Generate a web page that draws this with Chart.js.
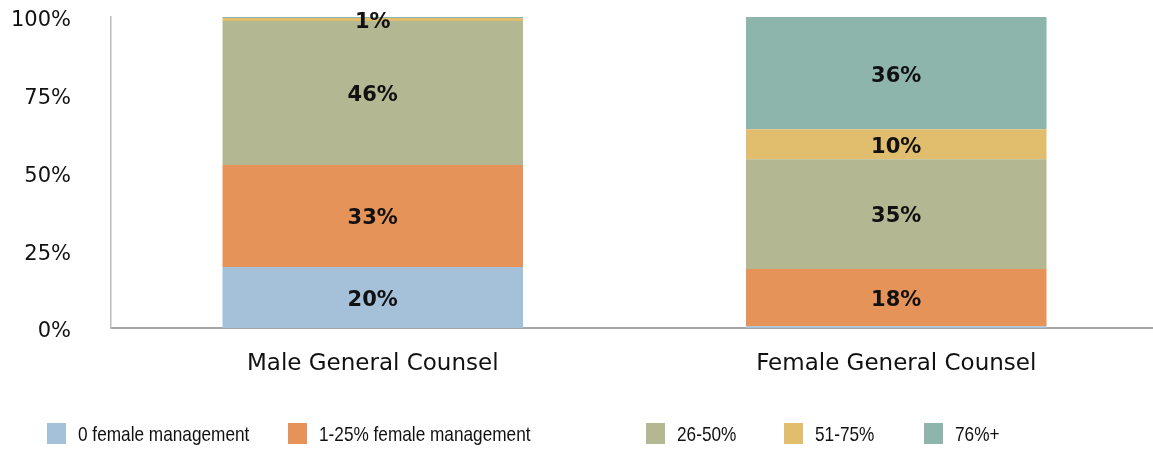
<!DOCTYPE html>
<html>
<head>
<meta charset="utf-8">
<script src="https://cdn.jsdelivr.net/npm/chart.js@4.4.1/dist/chart.umd.min.js"></script>
<style>
    html, body { margin: 0; padding: 0; background: #fff; overflow: hidden; }
    #wrap { position: relative; width: 1158px; height: 451px; }
    #legend { position: absolute; left: 0; top: 423px; width: 1153px; height: 22px; }
    .lg-item { position: absolute; top: 0; height: 21px; }
    .lg-box { position: absolute; left: 0; top: 0; width: 19px; height: 21px; }
    .lg-text {
        position: absolute; left: 31px; top: -1px; white-space: nowrap;
        font-family: "Liberation Sans", Arial, sans-serif; font-size: 21px; color: #111;
        transform: scaleX(0.82); transform-origin: left center;
    }
</style>
</head>
<body>
<div id="wrap">
    <canvas id="chart"></canvas>
    <div id="legend"></div>
</div>
<script>
// ── Data ────────────────────────────────────────────────
const categories = ["Male General Counsel", "Female General Counsel"];
const seriesNames = ["0 female management", "1-25% female management", "26-50%", "51-75%", "76%+"];
const zeroMgmt   = [19.6, 0.6];
const lowMgmt    = [32.8, 18.4];
const midMgmt    = [46.3, 35.3];
const highMgmt   = [1.0, 9.6];
const topMgmt    = [0.3, 36.1];
const yTicks     = [0, 25, 50, 75, 100];

const COLORS = ["#a5c1d9", "#e6935a", "#b3b892", "#e0be6e", "#8db5ab"];
const legendLeft = [47, 288, 646, 784, 924];

const seriesValues = [zeroMgmt, lowMgmt, midMgmt, highMgmt, topMgmt];

// ── Labels inside segments ──────────────────────────────
const segmentLabels = {
    id: "segmentLabels",
    afterDatasetsDraw(chart) {
        const ctx = chart.ctx;
        ctx.save();
        ctx.font = "bold 21px 'DejaVu Sans'";
        ctx.fillStyle = "#111";
        ctx.textAlign = "center";
        ctx.textBaseline = "middle";
        chart.data.datasets.forEach((ds, i) => {
            const meta = chart.getDatasetMeta(i);
            meta.data.forEach((bar, j) => {
                const v = ds.data[j];
                if (v < 0.95) return;
                ctx.fillText(Math.round(v) + "%", bar.x, (bar.y + bar.base) / 2 + 3);
            });
        });
        ctx.restore();
    }
};

const chart = new Chart(document.getElementById("chart"), {
    type: "bar",
    data: {
        labels: categories,
        datasets: seriesNames.map((name, i) => ({
            label: name,
            data: seriesValues[i],
            backgroundColor: COLORS[i],
            borderWidth: 0,
            barPercentage: 0.574,
            categoryPercentage: 1.0,
        }))
    },
    options: {
        responsive: true, maintainAspectRatio: false,
        animation: false,
        layout: { padding: { left: 0, top: 17, right: 0, bottom: 63 } },
        plugins: { legend: { display: false }, tooltip: { enabled: false } },
        scales: {
            x: {
                stacked: true,
                grid: { display: false, drawTicks: false },
                border: { display: true, color: "#a6a6a6", width: 2 },
                ticks: { color: "#111", padding: 22, font: { family: "DejaVu Sans", size: 23 } },
                afterFit: s => { s.height = 60; }
            },
            y: {
                stacked: true,
                min: 0, max: 100,
                afterBuildTicks: s => { s.ticks = yTicks.map(v => ({ value: v })); },
                grid: { display: false, drawTicks: false },
                border: { display: true, color: "#bdbdbd", width: 1.5 },
                ticks: { color: "#111", padding: 40, labelOffset: 4, font: { family: "DejaVu Sans", size: 21 }, callback: v => v + "%" },
                afterFit: s => { s.width = 111; s.paddingTop = 0; s.paddingBottom = 0; }
            }
        }
    },
    plugins: [segmentLabels]
});

// ── HTML legend ─────────────────────────────────────────
document.getElementById("legend").innerHTML = seriesNames.map((name, i) => `
    <div class="lg-item" style="left:${legendLeft[i]}px">
        <div class="lg-box" style="background:${COLORS[i]}"></div>
        <span class="lg-text">${name}</span>
    </div>`).join("");
</script>
</body>
</html>
